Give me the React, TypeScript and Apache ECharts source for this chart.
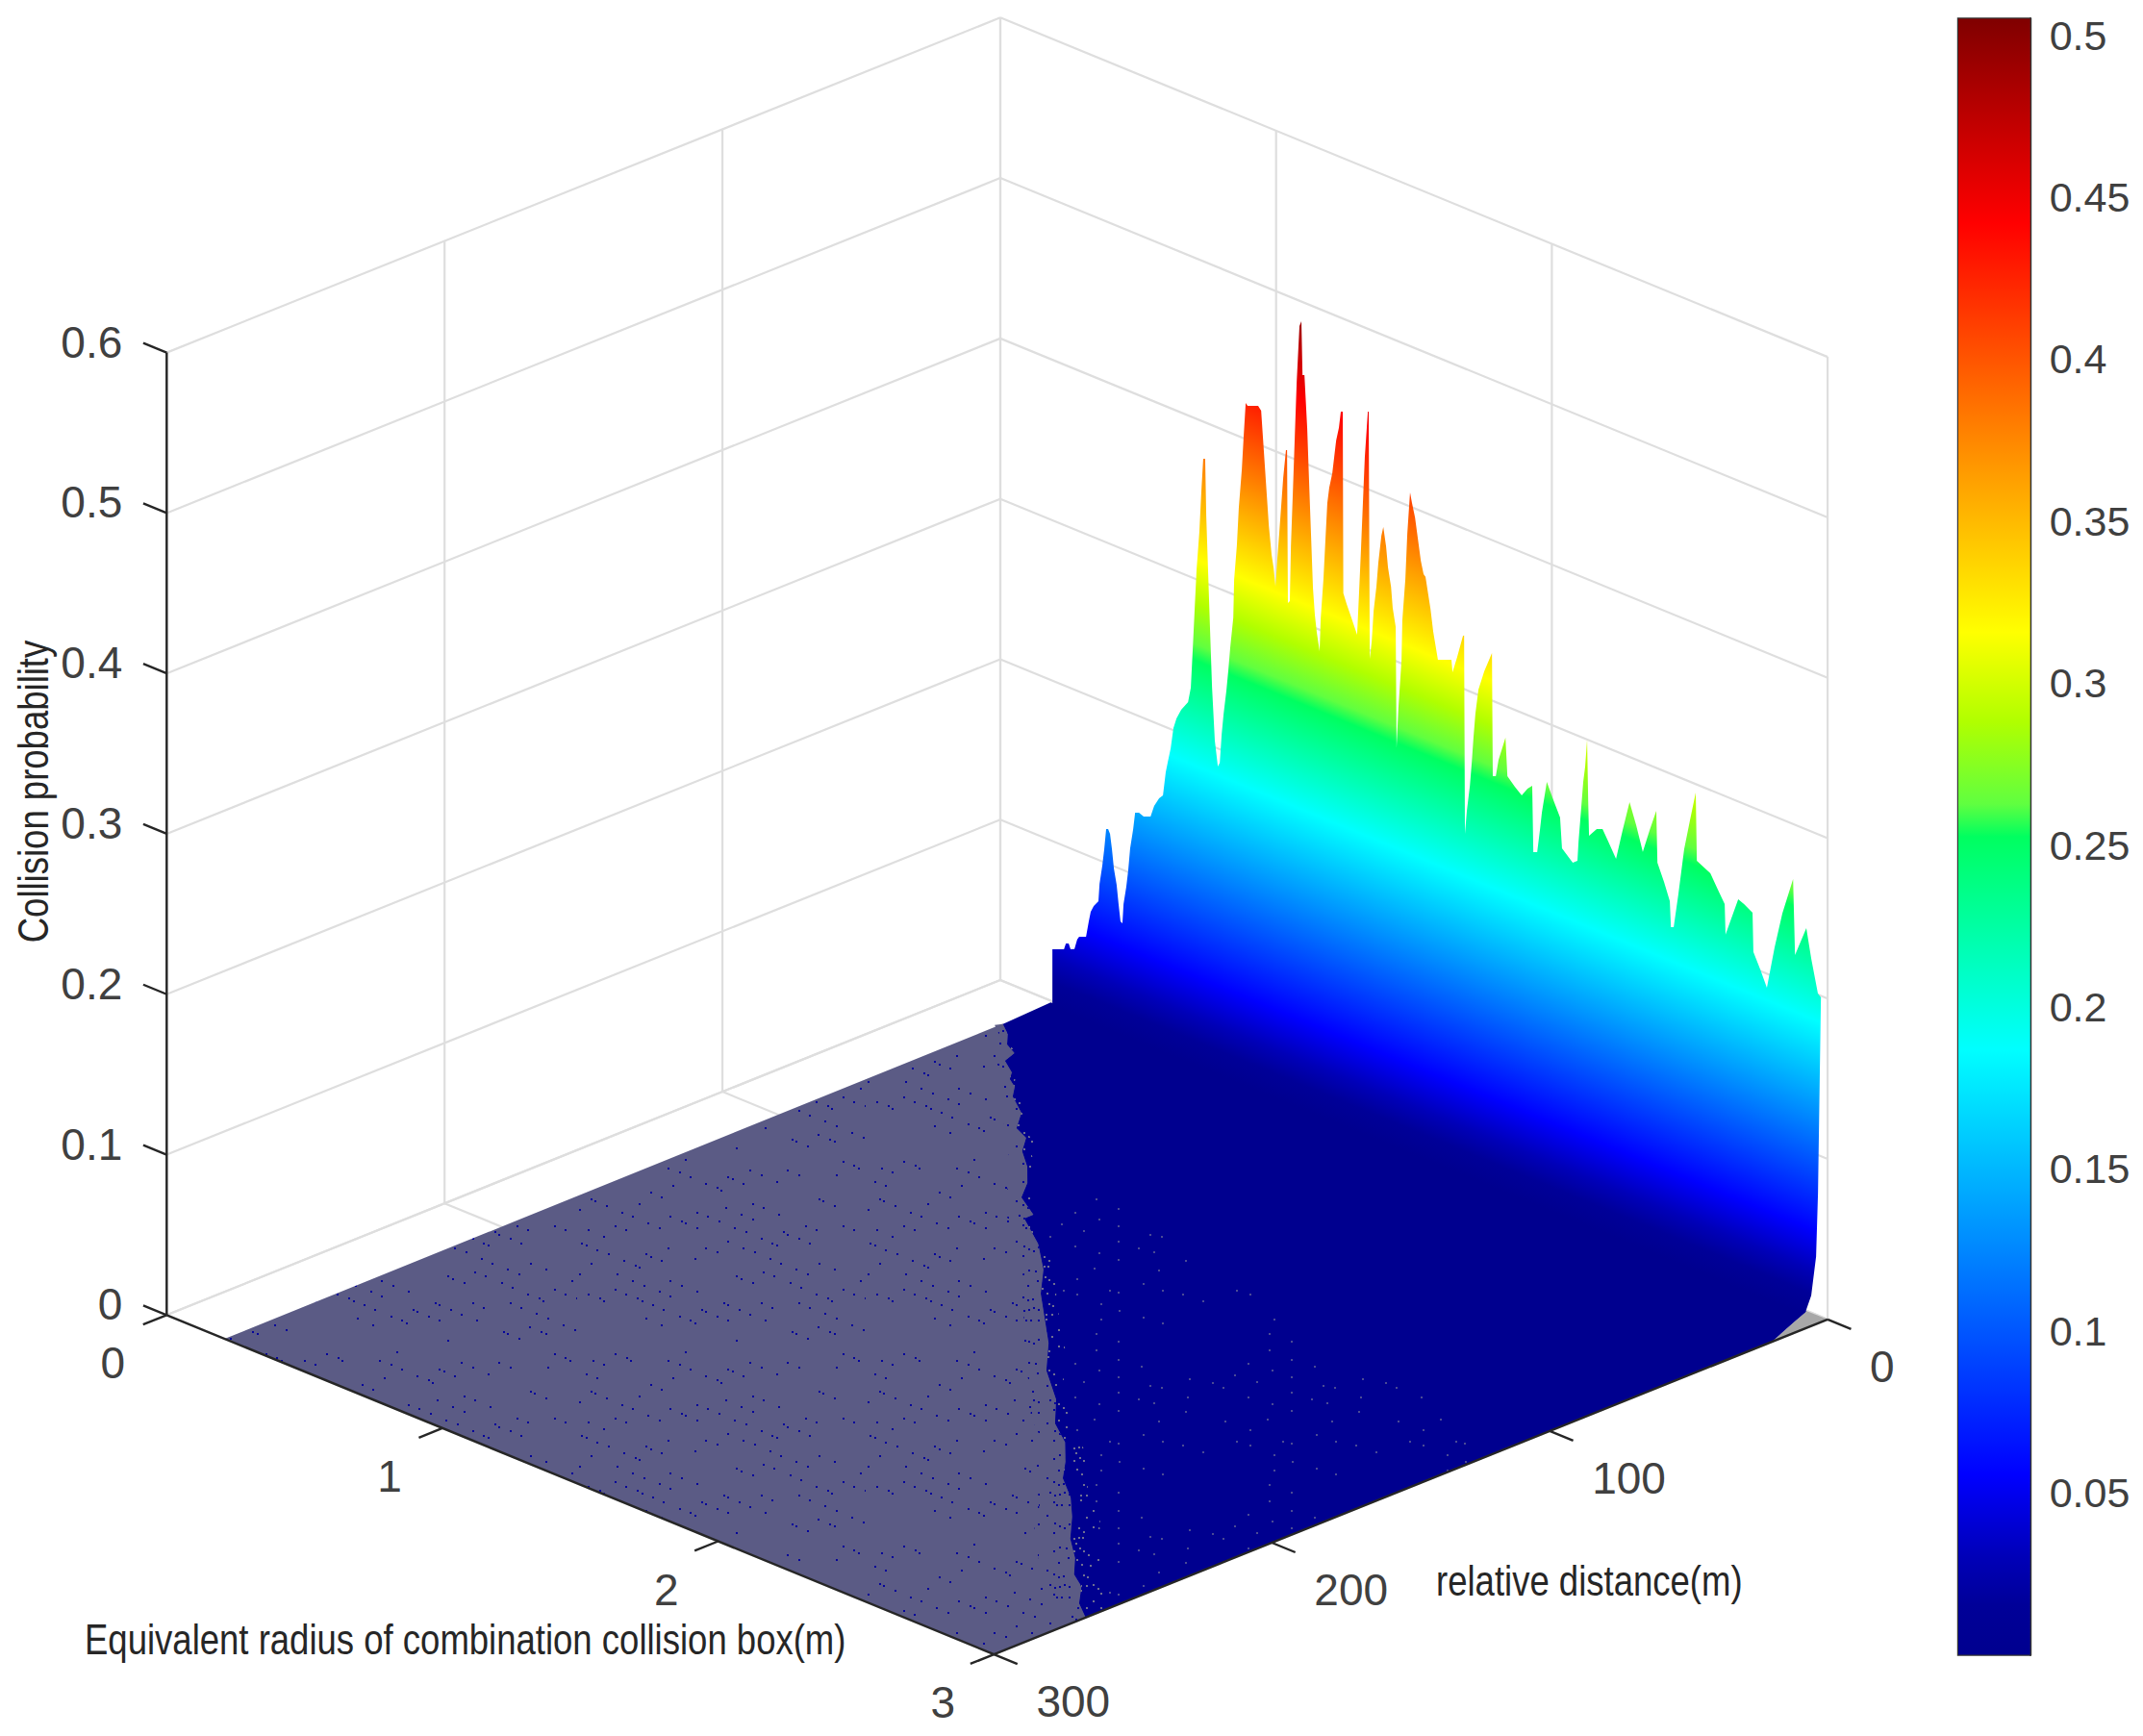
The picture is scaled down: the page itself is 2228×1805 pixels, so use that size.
import React, { useEffect, useRef } from "react";
import * as echarts from "echarts";

// ---------- axis ticks ----------
const radiusTicks = [0, 1, 2, 3];
const distanceTicks = [0, 100, 200, 300];
const probabilityTicks = [0, 0.1, 0.2, 0.3, 0.4, 0.5, 0.6];
const colorbarLabels = ["0.05", "0.1", "0.15", "0.2", "0.25", "0.3", "0.35", "0.4", "0.45", "0.5"];

const radiusTitle = "Equivalent radius of combination collision box(m)";
const distanceTitle = "relative distance(m)";
const probabilityTitle = "Collision probability";

// ---------- crest of the surface near distance 0 ----------
const crestRadius = [
  0.213, 0.255, 0.262, 0.272, 0.279, 0.293, 0.303, 0.31, 0.335, 0.345, 0.352, 0.363, 0.38, 0.384, 0.394, 0.401, 0.408, 0.415, 0.422, 0.429,
  0.436, 0.446, 0.453, 0.46, 0.467, 0.471, 0.481, 0.488, 0.495, 0.506, 0.513, 0.527, 0.544, 0.569, 0.582, 0.6, 0.614, 0.624, 0.631, 0.642,
  0.652, 0.663, 0.68, 0.705, 0.715, 0.722, 0.729, 0.736, 0.746, 0.753, 0.76, 0.767, 0.771, 0.778, 0.785, 0.792, 0.802, 0.813, 0.82, 0.827,
  0.834, 0.844, 0.851, 0.858, 0.869, 0.872, 0.882, 0.889, 0.9, 0.907, 0.914, 0.921, 0.959, 0.97, 0.977, 0.984, 0.991, 0.998, 1.008, 1.015,
  1.022, 1.029, 1.036, 1.043, 1.05, 1.06, 1.064, 1.067, 1.074, 1.078, 1.085, 1.092, 1.099, 1.109, 1.116, 1.12, 1.127, 1.137, 1.144, 1.151,
  1.158, 1.165, 1.172, 1.182, 1.186, 1.196, 1.203, 1.21, 1.217, 1.228, 1.235, 1.242, 1.252, 1.259, 1.266, 1.268, 1.28, 1.298, 1.318, 1.325,
  1.332, 1.339, 1.346, 1.357, 1.36, 1.364, 1.371, 1.378, 1.388, 1.395, 1.406, 1.413, 1.423, 1.43, 1.441, 1.447, 1.458, 1.461, 1.468, 1.479,
  1.482, 1.493, 1.5, 1.51, 1.517, 1.528, 1.535, 1.549, 1.559, 1.566, 1.584, 1.594, 1.611, 1.66, 1.664, 1.681, 1.702, 1.706, 1.709, 1.716,
  1.727, 1.734, 1.74, 1.747, 1.758, 1.779, 1.807, 1.81, 1.821, 1.831, 1.856, 1.863, 1.89, 1.915, 1.936, 1.953, 1.957, 1.971, 1.981, 1.988,
  2.006, 2.03, 2.054, 2.061, 2.1, 2.117, 2.121, 2.128, 2.138, 2.145, 2.152, 2.156, 2.159, 2.187, 2.208, 2.232, 2.257, 2.281, 2.306, 2.33,
  2.354, 2.379, 2.403, 2.407, 2.431, 2.452, 2.456, 2.466, 2.483, 2.504, 2.525, 2.546, 2.55, 2.599, 2.623, 2.651, 2.654, 2.7, 2.721, 2.752,
  2.755, 2.78, 2.804, 2.832, 2.86, 2.899, 2.906, 2.947, 2.965, 2.989, 3.0,
];
const crestProbability = [
  0.0359, 0.0388, 0.0429, 0.0437, 0.0405, 0.0416, 0.0483, 0.0505, 0.0523, 0.0626, 0.0691, 0.0734, 0.0776, 0.0887, 0.1008, 0.1115, 0.1246, 0.1251, 0.1226, 0.1135,
  0.1019, 0.0925, 0.081, 0.0707, 0.07, 0.0823, 0.0938, 0.1044, 0.1187, 0.1315, 0.1422, 0.1431, 0.142, 0.1437, 0.1513, 0.1573, 0.1601, 0.1752, 0.1817, 0.1915,
  0.2048, 0.2115, 0.2181, 0.2247, 0.2344, 0.2588, 0.2845, 0.3096, 0.3337, 0.3588, 0.3803, 0.3807, 0.3451, 0.3096, 0.2741, 0.2398, 0.2075, 0.1921, 0.195, 0.2135,
  0.2265, 0.2416, 0.2548, 0.2696, 0.2889, 0.3126, 0.3349, 0.3588, 0.3835, 0.4056, 0.4259, 0.4246, 0.4273, 0.425, 0.4075, 0.39, 0.3725, 0.355, 0.3378, 0.3305,
  0.319, 0.3375, 0.3541, 0.3714, 0.3887, 0.4068, 0.407, 0.312, 0.3137, 0.3481, 0.3822, 0.4174, 0.4521, 0.4876, 0.4911, 0.4578, 0.4583, 0.426, 0.3923, 0.3599,
  0.3274, 0.3111, 0.3007, 0.2901, 0.3108, 0.3361, 0.3605, 0.3844, 0.3945, 0.4042, 0.4149, 0.4256, 0.4342, 0.4448, 0.4453, 0.3322, 0.3264, 0.3186, 0.3099, 0.3362,
  0.3637, 0.3935, 0.4228, 0.4517, 0.452, 0.2981, 0.3094, 0.3291, 0.3448, 0.3603, 0.3778, 0.3837, 0.3725, 0.3598, 0.3485, 0.3358, 0.3246, 0.2493, 0.2755, 0.305,
  0.3304, 0.357, 0.3857, 0.4122, 0.406, 0.3978, 0.3893, 0.3723, 0.3647, 0.3634, 0.3448, 0.3312, 0.315, 0.3184, 0.3109, 0.3217, 0.3364, 0.3367, 0.2133, 0.2282,
  0.2446, 0.26, 0.2755, 0.291, 0.3067, 0.3196, 0.333, 0.2564, 0.2572, 0.2681, 0.2836, 0.2601, 0.2555, 0.2518, 0.2575, 0.2605, 0.2194, 0.2204, 0.2349, 0.2462,
  0.2666, 0.2569, 0.2479, 0.2292, 0.2229, 0.2253, 0.2376, 0.253, 0.2759, 0.286, 0.3033, 0.2652, 0.2439, 0.25, 0.2515, 0.2442, 0.2364, 0.2561, 0.2752, 0.2625,
  0.2475, 0.263, 0.2767, 0.2445, 0.2343, 0.2238, 0.2078, 0.2085, 0.2302, 0.2598, 0.2793, 0.2981, 0.2558, 0.2515, 0.2442, 0.236, 0.2171, 0.2424, 0.2409, 0.2377,
  0.2134, 0.2043, 0.1946, 0.2218, 0.2448, 0.269, 0.2222, 0.2419, 0.2239, 0.204, 0.2024,
];
const crestDistance = 2.4;

// ---------- wall foot at radius 3 ----------
const footDistance = [3.46, 4.15, 5.9, 8, 20];
const footProbability = [0.081, 0.042, 0.019, 0.01, 0.001];

// ---------- edge between zero and non-zero floor ----------
const edgeDistance = [
  19, 22.5, 27.3, 29.8, 34.9, 38.8, 42.2, 44.7, 49.3, 55, 62.7, 65.2, 71.9, 77.8, 85, 92.5, 98, 101.3,
  110, 120.4, 131.6, 152, 164.7, 175.7, 186.5, 193, 201.7, 209.4, 216.5, 224.8, 234.9, 242.6, 250, 254, 261.9, 267,
];
const edgeRadius = [
  0.201, 0.254, 0.3, 0.352, 0.369, 0.433, 0.46, 0.503, 0.542, 0.631, 0.691, 0.751, 0.804, 0.882, 0.955, 1.009, 1.108, 1.108,
  1.246, 1.37, 1.473, 1.707, 1.827, 1.973, 2.078, 2.18, 2.269, 2.337, 2.437, 2.526, 2.621, 2.716, 2.787, 2.854, 2.925, 3.0,
];
const edgeMix = [
  0.01, 0.01, 0.012, 0.012, 0.014, 0.016, 0.018, 0.02, 0.022, 0.025, 0.03, 0.03, 0.035, 0.035, 0.04, 0.04, 0.045, 0.045,
  0.05, 0.05, 0.055, 0.06, 0.06, 0.065, 0.07, 0.07, 0.08, 0.09, 0.1, 0.1, 0.11, 0.11, 0.11, 0.11, 0.11, 0.11,
];
const surfaceStartRadius = 0.2;

// ---------- colour map ----------
const jetPositions = [0, 0.03, 0.06, 0.11, 0.37, 0.5, 0.52, 0.57, 0.625, 0.875, 1];
const jetColors = ["#00008f", "#000098", "#0000b8", "#0000ff", "#00ffff", "#00ff60", "#60ff40", "#b0ff00", "#ffff00", "#ff0000", "#800000"];
const jetStops = jetPositions.map((offset, i) => ({ offset, color: jetColors[i] }));
const colorMax = 0.5051;

// ---------- floor texture (speckle offsets inside one tile, at 3x) ----------
const sparseNavyDots = [
  [116,20],[152,34],[165,41],[47,41],[82,55],[27,83],[61,97],[227,117],[262,131],[41,138],[55,145],[89,158],[193,152],[6,172],[137,179],[172,193],[283,41],[317,55],[351,69],[337,14],
  [296,97],[400,90],[434,103],[448,110],[468,69],[482,76],[517,90],[537,48],[572,62],[620,83],[655,48],[689,62],[807,62],[827,20],[862,34],[876,41],[752,138],[765,145],[800,158],[545,152],
  [579,165],[462,165],[510,186],[545,200],[627,186],[372,179],[406,193],[441,207],[289,193],[324,207],[337,214],[220,214],[255,227],[372,227],[117,221],[151,235],[34,235],[82,255],[13,276],[27,283],
  [61,296],[96,310],[213,310],[227,317],[262,331],[144,331],[179,345],[193,352],[41,338],[282,290],[400,290],[434,303],[365,324],[468,269],[517,290],[551,303],[572,262],[606,276],[620,283],[489,227],
  [524,241],[641,241],[655,248],[689,262],[724,276],[710,221],[745,235],[827,221],[862,235],[600,324],[634,338],[752,338],[800,358],[682,358],[717,372],[579,365],[613,379],[496,379],[510,386],[545,400],
  [662,400],[696,414],[882,393],[827,421],[862,434],[745,434],[896,448],[779,448],[793,455],[689,462],[724,476],[572,462],[606,476],[455,462],[468,469],[503,483],[537,497],[386,483],[400,490],[434,503],
  [468,517],[586,517],[772,496],[807,510],[855,531],[890,545],[751,538],[786,552],[800,559],[669,552],[682,559],[717,572],[496,579],[6,372],[124,372],[172,393],[206,407],[289,393],[324,407],[117,421],
  [255,427],[289,441],[372,427],[34,434],[69,448],[82,455],[151,434],[186,448],[200,455],[234,469],[268,483],[317,503],[351,517],[365,524],[213,510],[262,531],
];
const sparseGreyDots = [
  [110,13],[185,33],[247,0],[317,20],[68,48],[137,68],[247,55],[345,81],[380,88],[468,61],[0,73],[34,88],[247,101],[310,123],[358,136],[462,116],[110,116],[185,138],[247,158],[455,163],
  [170,185],[372,191],[40,191],[117,219],[323,233],[75,255],[220,255],[247,261],[385,255],[448,268],[117,268],[510,289],[192,296],[248,317],[324,338],[192,345],[385,358],[178,391],[247,413],[178,441],
];
const denseNavyDots = [
  [0,0],[20,13],[35,20],[50,17],[10,45],[25,53],[40,50],[55,45],[70,50],[30,85],[45,83],[70,83],[20,75],[0,117],[25,140],[40,150],[55,155],[70,145],[20,170],[40,215],[60,220],[20,227],[65,250],[35,265],
];
const denseGreyDots = [
  [0,3],[15,0],[28,0],[5,18],[17,33],[30,43],[45,53],[0,43],[10,68],[25,83],[50,88],[75,68],[30,118],[42,123],[20,150],[40,150],[60,146],[75,158],[20,166],[85,173],[60,198],[40,218],[85,218],[60,248],[30,263],[77,253],[15,253],
];

const FONT = '"Liberation Sans", Arial, sans-serif';

// ---------- the oblique view of the 3D box ----------
const VIEW = {
  backX: 1040, backY: 1019,
  perRadius: [286.7, 117.6],
  perDistance: [-2.889, 1.161],
  perProbability: -1667.8,
};
const project = (r: number, d: number, z: number) => [
  VIEW.backX + r * VIEW.perRadius[0] + d * VIEW.perDistance[0],
  VIEW.backY + r * VIEW.perRadius[1] + d * VIEW.perDistance[1] + z * VIEW.perProbability,
];

function makeTile(w: number, h: number, bg: string | null, dot: string, dots: number[][]) {
  const c = document.createElement("canvas");
  c.width = w;
  c.height = h;
  const g = c.getContext("2d")!;
  if (bg) {
    g.fillStyle = bg;
    g.fillRect(0, 0, w, h);
  }
  g.fillStyle = dot;
  dots.forEach(([x, y]) => g.fillRect(Math.round(x / 3), Math.round(y / 3), 2, 2));
  return { image: c, repeat: "repeat", imageWidth: w, imageHeight: h };
}

const GREY = "#5b5b85";
const NAVY = "#00008f";
const GRID = "#dedede";
const AXIS = "#262626";
const TEXT = "#404040";

export default function App() {
  const ref = useRef<HTMLDivElement>(null);

  useEffect(() => {
    const chart = echarts.init(ref.current!, null, { renderer: "svg" });

    const px = (api: any, r: number, d: number, z: number) => api.coord(project(r, d, z));
    const poly = (points: number[][], style: any) => ({ type: "polygon", shape: { points }, style, silent: true });
    const seg = (a: number[], b: number[], stroke: string, lineWidth: number) => ({
      type: "line",
      shape: { x1: a[0], y1: a[1], x2: b[0], y2: b[1] },
      style: { stroke, lineWidth },
      silent: true,
    });
    const label = (text: string, x: number, y: number, align: string, fontSize = 46) => ({
      type: "text",
      x,
      y,
      silent: true,
      style: { text, x: 0, y: 0, fill: TEXT, font: `${fontSize}px ${FONT}`, align, verticalAlign: "middle" },
    });
    const title = (text: string, x: number, y: number, align: string, rotation = 0) => ({
      type: "text",
      x,
      y,
      rotation,
      scaleX: 0.83,
      silent: true,
      style: { text, x: 0, y: 0, fill: "#262626", font: `44px ${FONT}`, align, verticalAlign: "middle" },
    });

    const single = (renderItem: any) => ({
      type: "custom",
      coordinateSystem: "cartesian2d",
      xAxisIndex: 0,
      yAxisIndex: 0,
      clip: false,
      silent: true,
      data: [[0, 0]],
      renderItem,
    });

    const rMax = radiusTicks[radiusTicks.length - 1];
    const dMax = distanceTicks[distanceTicks.length - 1];
    const zMax = probabilityTicks[probabilityTicks.length - 1];

    const tiles = {
      greySparse: makeTile(300, 200, GREY, "#05059a", sparseNavyDots),
      navySparse: makeTile(180, 157, null, "#4a4a94", sparseGreyDots),
      greyDense: makeTile(32, 96, GREY, "#05059a", denseNavyDots),
      navyDense: makeTile(36, 94, NAVY, "#6e6e92", denseGreyDots),
    };

    const gridSeries = single((_: any, api: any) => {
      const c: any[] = [];
      const w = 2.2;
      distanceTicks.forEach((d) => {
        c.push(seg(px(api, 0, d, 0), px(api, 0, d, zMax), GRID, w));
        c.push(seg(px(api, 0, d, 0), px(api, rMax, d, 0), GRID, w));
      });
      radiusTicks.forEach((r) => {
        c.push(seg(px(api, r, 0, 0), px(api, r, 0, zMax), GRID, w));
        c.push(seg(px(api, r, 0, 0), px(api, r, dMax, 0), GRID, w));
      });
      probabilityTicks.forEach((z) => {
        c.push(seg(px(api, 0, dMax, z), px(api, 0, 0, z), GRID, w));
        c.push(seg(px(api, 0, 0, z), px(api, rMax, 0, z), GRID, w));
      });
      return { type: "group", children: c };
    });

    const floorSeries = single((_: any, api: any) => {
      const edge = edgeRadius.map((r, i) => px(api, r, edgeDistance[i], 0));
      const grey = [
        px(api, surfaceStartRadius, edgeDistance[0], 0),
        ...edge,
        px(api, rMax, dMax, 0),
        px(api, surfaceStartRadius + 0.01, dMax, 0),
      ];
      const navy = [
        px(api, 0.19, 0.7, 0),
        px(api, 2.924, 0.1, 0),
        px(api, rMax, footDistance[footDistance.length - 1], 0),
        ...edge.slice().reverse(),
      ];
      const tri = [px(api, rMax, 20, 0), px(api, rMax, 0, 0), px(api, 2.924, 0.1, 0)];
      const grainFrom = 11;
      const grain = [...edge.slice(grainFrom), px(api, rMax, 115, 0), px(api, 1.6, 88, 0)];
      const mixNavy = [
        ...edge,
        ...edgeRadius.map((r, i) => px(api, r - edgeMix[i], edgeDistance[i] + 2, 0)).reverse(),
      ];
      const mixGrey = [
        ...edge,
        ...edgeRadius.map((r, i) => px(api, Math.min(r + edgeMix[i], rMax), edgeDistance[i], 0)).reverse(),
      ];
      return {
        type: "group",
        children: [
          poly(tri, { fill: "#a8a8a8" }),
          poly(grey, { fill: tiles.greySparse }),
          poly(navy, { fill: NAVY }),
          poly(grain, { fill: tiles.navySparse }),
          poly(mixNavy, { fill: tiles.greyDense }),
          poly(mixGrey, { fill: tiles.navyDense }),
        ],
      };
    });

    const wallSeries = single((_: any, api: any) => {
      const crest = crestRadius.map((r, i) => px(api, r, crestDistance, crestProbability[i]));
      const foot = footDistance.map((d, i) => px(api, rMax, d, footProbability[i]));
      const points = [px(api, crestRadius[0], crestDistance, 0), ...crest, ...foot];
      const p0 = px(api, 0, crestDistance, 0);
      const p3 = px(api, rMax, crestDistance, 0);
      const top = px(api, 0, crestDistance, colorMax);
      const s = (p3[1] - p0[1]) / (p3[0] - p0[0]);
      const len = Math.hypot(s, 1);
      const nx = s / len;
      const ny = -1 / len;
      const span = (top[0] - p0[0]) * nx + (top[1] - p0[1]) * ny;
      const fill = new echarts.graphic.LinearGradient(p0[0], p0[1], p0[0] + nx * span, p0[1] + ny * span, jetStops, true);
      return poly(points, { fill });
    });

    const axisSeries = single((_: any, api: any) => {
      const c: any[] = [];
      const w = 2.4;
      c.push(seg(px(api, 0, dMax, 0), px(api, 0, dMax, zMax), AXIS, w));
      c.push(seg(px(api, 0, dMax, 0), px(api, rMax, dMax, 0), AXIS, w));
      c.push(seg(px(api, rMax, 0, 0), px(api, rMax, dMax, 0), AXIS, w));
      probabilityTicks.forEach((z) => {
        const a = px(api, 0, dMax, z);
        c.push(seg(a, px(api, -0.085, dMax, z), AXIS, w));
        c.push(label(String(z), a[0] - 46, a[1] - 11, "right"));
      });
      radiusTicks.forEach((r) => {
        const a = px(api, r, dMax, 0);
        c.push(seg(a, px(api, r, dMax + 8.5, 0), AXIS, w));
        c.push(label(String(r), a[0] - 56 + r, a[1] + 50, "center"));
      });
      distanceTicks.forEach((d) => {
        const a = px(api, rMax, d, 0);
        c.push(seg(a, px(api, rMax + 0.085, d, 0), AXIS, w));
        c.push(label(String(d), a[0] + 44, a[1] + 49, "left"));
      });
      const anchor = px(api, 0, 0, 0);
      c.push(title(radiusTitle, anchor[0] - 952, anchor[1] + 686, "left"));
      c.push(title(distanceTitle, anchor[0] + 453, anchor[1] + 625, "left"));
      c.push(title(probabilityTitle, anchor[0] - 1005, anchor[1] - 196, "center", Math.PI / 2));
      return { type: "group", children: c };
    });

    chart.setOption({
      animation: false,
      backgroundColor: "#ffffff",
      grid: [
        { left: 0, top: 0, width: 2228, height: 1805 },
        { left: 2036, top: 19.5, width: 74.7, height: 1701, show: true, borderColor: "#333333", borderWidth: 2.4, backgroundColor: "transparent" },
      ],
      xAxis: [
        { type: "value", gridIndex: 0, min: 0, max: 2228, show: false },
        { type: "category", gridIndex: 1, data: ["colour"], show: false },
      ],
      yAxis: [
        { type: "value", gridIndex: 0, min: 0, max: 1805, inverse: true, show: false },
        {
          type: "value",
          gridIndex: 1,
          position: "right",
          min: 0,
          max: colorMax,
          interval: 0.05,
          splitLine: { show: false },
          axisLine: { show: true, onZero: false, lineStyle: { color: "#333333", width: 2.4 } },
          axisTick: { show: true, inside: true, length: 17, lineStyle: { color: "#333333", width: 2 } },
          axisLabel: {
            show: true,
            margin: 20,
            color: TEXT,
            fontFamily: "Liberation Sans",
            fontSize: 43,
            showMinLabel: false,
            showMaxLabel: false,
            formatter: (v: number) => {
              const s = String(+v.toFixed(2));
              return colorbarLabels.includes(s) && v < colorMax ? s : "";
            },
          },
        },
      ],
      series: [
        gridSeries,
        floorSeries,
        wallSeries,
        axisSeries,
        {
          type: "bar",
          xAxisIndex: 1,
          yAxisIndex: 1,
          barWidth: "100%",
          silent: true,
          data: [colorMax],
          z: 1,
          itemStyle: {
            color: new echarts.graphic.LinearGradient(0, 1, 0, 0, jetStops),
          },
        },
      ],
    });

    return () => chart.dispose();
  }, []);

  return <div ref={ref} style={{ position: "fixed", left: 0, top: 0, width: 2228, height: 1805, background: "#fff" }} />;
}
